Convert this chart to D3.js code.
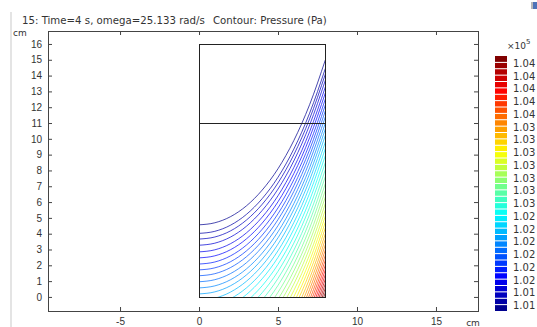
<!DOCTYPE html>
<html>
<head>
<meta charset="utf-8">
<script src="https://cdn.jsdelivr.net/npm/d3@7"></script>
<style>
  body { margin: 0; background: #fff; }
  svg { display: block; font-family: "DejaVu Sans", sans-serif; }
  .tick text { fill: #333; font-size: 10px; }
  .tick line { stroke: #444; }
</style>
</head>
<body>
<div id="chart"></div>
<script>
// Axis ticks (cm)
const xTicks = [-5, 0, 5, 10, 15];
const yTicks = [0, 1, 2, 3, 4, 5, 6, 7, 8, 9, 10, 11, 12, 13, 14, 15, 16];

// Fluid domain (r, z in cm) and the inner horizontal boundary
const domainR = [0, 8];
const domainZ = [0, 16];
const innerLineZ = 11;

// Shape of the isobars: rise above the axis value
const surfR = [0, 1, 2, 3, 4, 5, 6, 7, 8];
const surfRise = [0, 0.13, 0.52, 1.2, 2.2, 3.55, 5.33, 7.6, 10.44];

// Height on the axis (r = 0) of each isobar, lowest pressure first
// (values below 0 are where the isobar would meet the axis if extended)
const isobarZ0 = [
  4.56, 4.02, 3.66, 3.27, 2.85, 2.47, 2.08, 1.71, 1.34, 0.96,
  0.57, 0.19, -0.21, -0.63, -1.05, -1.49, -1.93, -2.38, -2.82, -3.26,
  -3.69, -4.11, -4.52, -4.93, -5.32, -5.70, -6.07, -6.44, -6.79, -7.13,
  -7.46, -7.79, -8.10, -8.41, -8.71, -9.01, -9.30, -9.59, -9.87, -10.15
];

// Colour legend labels (x 10^5 Pa), top to bottom
const legendLabels = [
  "1.04", "1.04", "1.04", "1.04", "1.04",
  "1.03", "1.03", "1.03", "1.03", "1.03", "1.03", "1.03",
  "1.02", "1.02", "1.02", "1.02", "1.02", "1.02",
  "1.01", "1.01"
];

const W = 537, H = 327;
const frame = { left: 48, right: 478, top: 31, bottom: 311 };

const jet = d3.scaleLinear()
  .domain([0, 0.125, 0.375, 0.625, 0.875, 1])
  .range(["#00008f", "#0000ff", "#00ffff", "#ffff00", "#ff0000", "#800000"])
  .interpolate(d3.interpolateRgb);

function renderChart(container) {
  const svg = d3.select(container).append("svg").attr("width", W).attr("height", H);

  const x = d3.scaleLinear().domain([-9.56, 17.66]).range([frame.left, frame.right]);
  const y = d3.scaleLinear().domain([-0.89, 16.82]).range([frame.bottom, frame.top]);

  drawChrome(svg);
  drawAxes(svg, x, y);
  drawContours(svg, x, y);
  drawLegend(svg);
}

// Window border, titles
function drawChrome(svg) {
  svg.append("rect").attr("x", 10).attr("y", 12).attr("width", 2).attr("height", H - 12).attr("fill", "#e4e4e4");

  svg.append("rect").attr("x", 531).attr("y", 2).attr("width", 2).attr("height", 7).attr("fill", "#b9b9b9");
  svg.append("rect").attr("x", 533).attr("y", 2).attr("width", 4).attr("height", 7).attr("fill", "#4f74b8");

  svg.append("text").attr("x", 22).attr("y", 24)
    .attr("font-size", 10.2).attr("fill", "#333")
    .text("15: Time=4 s, omega=25.133 rad/s");
  svg.append("text").attr("x", 213).attr("y", 24)
    .attr("font-size", 10.2).attr("fill", "#333")
    .text("Contour: Pressure (Pa)");

  svg.append("text").attr("x", 13).attr("y", 36)
    .attr("font-size", 9).attr("fill", "#333").text("cm");
  svg.append("text").attr("x", 473).attr("y", 326)
    .attr("font-size", 9).attr("fill", "#333").attr("text-anchor", "middle").text("cm");
}

function drawAxes(svg, x, y) {
  const plain = (d) => String(d);
  const bottom = d3.axisBottom(x).tickValues(xTicks).tickFormat(plain).tickSizeInner(-4).tickSizeOuter(0).tickPadding(7);
  const top = d3.axisTop(x).tickValues(xTicks).tickSizeInner(-4).tickSizeOuter(0).tickFormat("");
  const left = d3.axisLeft(y).tickValues(yTicks).tickFormat(plain).tickSizeInner(-4).tickSizeOuter(0).tickPadding(6);
  const right = d3.axisRight(y).tickValues(yTicks).tickSizeInner(-4).tickSizeOuter(0).tickFormat("");

  svg.append("g").attr("transform", `translate(0,${frame.bottom})`).call(bottom);
  svg.append("g").attr("transform", `translate(0,${frame.top})`).call(top);
  svg.append("g").attr("transform", `translate(${frame.left},0)`).call(left);
  svg.append("g").attr("transform", `translate(${frame.right},0)`).call(right);
  svg.selectAll(".domain").remove();
  svg.selectAll(".tick text").attr("font-family", null).attr("font-size", null);

  svg.append("rect")
    .attr("x", frame.left + 0.5).attr("y", frame.top + 0.5)
    .attr("width", frame.right - frame.left).attr("height", frame.bottom - frame.top)
    .attr("fill", "none").attr("stroke", "#444");
}

function drawContours(svg, x, y) {
  const x0 = x(domainR[0]), x1 = x(domainR[1]);
  const y0 = y(domainZ[1]), y1 = y(domainZ[0]);

  svg.append("defs").append("clipPath").attr("id", "fluid-clip")
    .append("rect").attr("x", x0).attr("y", y0).attr("width", x1 - x0).attr("height", y1 - y0);

  const line = d3.line()
    .x((d) => x(d[0]))
    .y((d) => y(d[1]))
    .curve(d3.curveMonotoneX);

  const n = isobarZ0.length;
  svg.append("g").attr("clip-path", "url(#fluid-clip)")
    .selectAll("path")
    .data(isobarZ0)
    .enter()
    .append("path")
    .attr("d", (z0) => line(surfR.map((r, k) => [r, z0 + surfRise[k]])))
    .attr("fill", "none")
    .attr("stroke", (z0, i) => jet(i / (n - 1)))
    .attr("stroke-opacity", 0.8)
    .attr("stroke-width", 0.9);

  // domain outline and inner boundary
  svg.append("rect")
    .attr("x", Math.round(x0) + 0.5).attr("y", Math.round(y0) + 0.5)
    .attr("width", Math.round(x1 - x0)).attr("height", Math.round(y1 - y0))
    .attr("fill", "none").attr("stroke", "#222");
  svg.append("line")
    .attr("x1", x0).attr("x2", x1)
    .attr("y1", Math.round(y(innerLineZ)) + 0.5).attr("y2", Math.round(y(innerLineZ)) + 0.5)
    .attr("stroke", "#222");
}

function drawLegend(svg) {
  const n = isobarZ0.length;
  const barX = 495, barW = 12;
  const ly = d3.scaleLinear().domain([0, n]).range([56, 311]);

  const g = svg.append("g").attr("class", "legend");
  g.selectAll("rect.band")
    .data(d3.range(n))
    .enter()
    .append("rect")
    .attr("class", "band")
    .attr("x", barX).attr("width", barW)
    .attr("y", (k) => ly(k)).attr("height", ly(1) - ly(0))
    .attr("fill", (k) => jet(1 - k / (n - 1)));

  g.selectAll("line.sep")
    .data(d3.range(1, n))
    .enter()
    .append("line")
    .attr("class", "sep")
    .attr("x1", barX).attr("x2", barX + barW)
    .attr("y1", (k) => ly(k)).attr("y2", (k) => ly(k))
    .attr("stroke", "#fff").attr("stroke-width", 1);

  g.selectAll("text.lab")
    .data(legendLabels)
    .enter()
    .append("text")
    .attr("class", "lab")
    .attr("x", 513)
    .attr("y", (d, j) => ly(2 * j + 1) + 1)
    .attr("dy", "0.35em")
    .attr("font-size", 10).attr("fill", "#333")
    .text((d) => d);

  const exp = g.append("text").attr("x", 507).attr("y", 49).attr("font-size", 9).attr("fill", "#333");
  exp.append("tspan").text("\u00d710");
  exp.append("tspan").attr("dy", -5).attr("font-size", 7).text("5");
}

renderChart(document.getElementById("chart"));
</script>
</body>
</html>
